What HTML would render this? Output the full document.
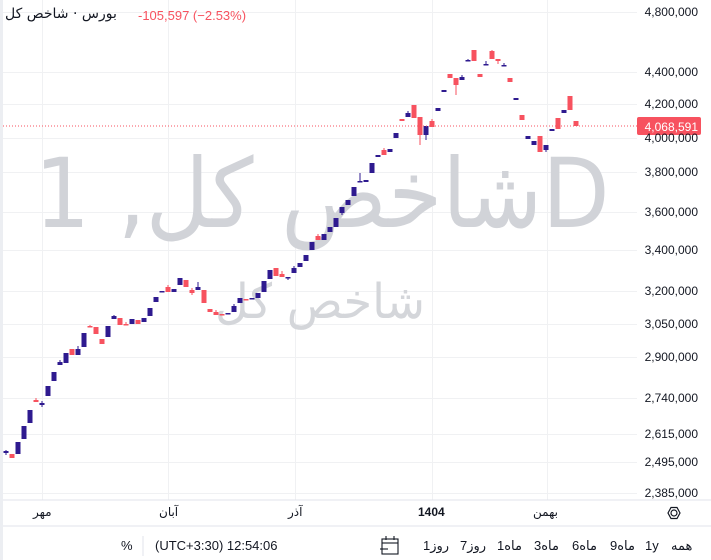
<!DOCTYPE html>
<html><head><meta charset="utf-8">
<style>
body{margin:0;width:711px;height:560px;overflow:hidden;background:#fff;font-family:"Liberation Sans","DejaVu Sans",sans-serif;}
.t{position:absolute;white-space:nowrap;}
.b{position:absolute;top:538px;font-size:13px;color:#131722;font-family:"Liberation Sans","DejaVu Sans",sans-serif;white-space:nowrap;direction:ltr;unicode-bidi:isolate;}
</style></head>
<body>
<div style="position:absolute;left:0;top:0;width:3px;height:560px;background:#eceef2"></div>
<svg id="s" width="711" height="560" style="position:absolute;left:0;top:0">
<g stroke="#f0f1f3" stroke-width="1" id="grid"></g>
<text x="322" y="227" font-family="DejaVu Sans,sans-serif" font-size="96" fill="#d1d3d8" text-anchor="middle" direction="ltr" textLength="575" lengthAdjust="spacingAndGlyphs">1 ,شاخص کلD</text>
<text x="320" y="318" font-family="DejaVu Sans,sans-serif" font-size="48" fill="#d4d6da" text-anchor="middle" textLength="210" lengthAdjust="spacingAndGlyphs">شاخص کل</text>
<g id="c"></g>
<line x1="3" y1="126" x2="637" y2="126" stroke="#f7525f" stroke-width="1" stroke-dasharray="1,2"/>
<rect x="637" y="117" width="64" height="18" rx="2" fill="#f7525f"/>
<text x="698" y="131" font-size="12" fill="#fff" text-anchor="end" font-family="Liberation Sans">4,068,591</text>
<g id="ax" font-size="12" fill="#131722" font-family="Liberation Sans" text-anchor="end"></g>
<line x1="3" y1="500" x2="711" y2="500" stroke="#e0e3eb"/>
<line x1="3" y1="526" x2="711" y2="526" stroke="#e0e3eb"/>
<line x1="143" y1="536" x2="143" y2="556" stroke="#e0e3eb"/>
<circle cx="674" cy="513" r="3" fill="none" stroke="#131722" stroke-width="1.2"/>
<polygon points="668,513 671,507.5 677,507.5 680,513 677,518.5 671,518.5" fill="none" stroke="#131722" stroke-width="1.2"/>
<g fill="none" stroke="#131722" stroke-width="1.1">
<rect x="382" y="539" width="16" height="15"/><line x1="382" y1="543" x2="398" y2="543"/>
<line x1="386" y1="536" x2="386" y2="540"/><line x1="394" y1="536" x2="394" y2="540"/>
<line x1="380" y1="549" x2="388" y2="549"/>
</g>
</svg>
<div class="t" style="left:5px;top:6px;font-size:14px;color:#131722;font-family:'DejaVu Sans',sans-serif" dir="rtl">بورس · شاخص کل</div>
<div class="t" style="left:138px;top:8px;font-size:13px;color:#f7525f">-105,597 (−2.53%)</div>
<div class="t" style="left:33px;top:505px;font-size:12px;color:#131722;font-family:'DejaVu Sans',sans-serif">مهر</div>
<div class="t" style="left:159px;top:505px;font-size:12px;color:#131722;font-family:'DejaVu Sans',sans-serif">آبان</div>
<div class="t" style="left:288px;top:505px;font-size:12px;color:#131722;font-family:'DejaVu Sans',sans-serif">آذر</div>
<div class="t" style="left:418px;top:505px;font-size:12px;color:#131722;font-weight:bold">1404</div>
<div class="t" style="left:533px;top:505px;font-size:12px;color:#131722;font-family:'DejaVu Sans',sans-serif">بهمن</div>
<div class="t" style="left:121px;top:538px;font-size:13px;color:#131722">%</div>
<div class="t" style="left:155px;top:538px;font-size:13px;color:#131722">(UTC+3:30) 12:54:06</div>
<div class="b" style="left:671px">همه</div>
<div class="b" style="left:645px">1y</div>
<div class="b" style="left:610px">9<span>ماه</span></div>
<div class="b" style="left:572px">6<span>ماه</span></div>
<div class="b" style="left:534px">3<span>ماه</span></div>
<div class="b" style="left:497px">1<span>ماه</span></div>
<div class="b" style="left:460px">7<span>روز</span></div>
<div class="b" style="left:423px">1<span>روز</span></div>
<script>
var ns="http://www.w3.org/2000/svg";
function el(n,a,p){var e=document.createElementNS(ns,n);for(var k in a)e.setAttribute(k,a[k]);document.getElementById(p).appendChild(e);return e;}
var ax=[["4,800,000",12],["4,400,000",72],["4,200,000",104],["4,000,000",138],["3,800,000",172],["3,600,000",212],["3,400,000",250],["3,200,000",291],["3,050,000",324],["2,900,000",357],["2,740,000",398],["2,615,000",434],["2,495,000",462],["2,385,000",493]];
ax.forEach(function(a){el("line",{x1:3,x2:637,y1:a[1]+.5,y2:a[1]+.5},"grid");var t=el("text",{x:698,y:a[1]+4},"ax");t.textContent=a[0];});
[42,168,295,432,547].forEach(function(x){el("line",{x1:x+.5,x2:x+.5,y1:0,y2:500},"grid");});
var B="#2e1a8f",R="#f7525f";
var d=[[6,B,451,453,450,455],[12,R,454,458],[18,B,442,454],[24,B,426,439],[30,B,410,423],[36,R,400,402,398,402],[42,B,403,405,401,407],[48,B,386,396],[54,B,372,381],[60,B,362,365,360,365],[66,B,353,363],[72,R,349,355],[78,B,349,355,346,355],[84,B,333,347],[90,R,326,327,325,327],[96,R,327,334],[102,R,339,344],[108,B,326,337],[114,B,316,319,315,319],[120,R,318,325],[126,R,324,325,322,325],[132,B,319,324],[138,R,320,324],[144,B,318,322],[150,B,308,316],[156,B,297,302],[162,B,291,292],[168,R,287,292,285,292],[174,B,289,292],[180,B,278,285],[186,R,280,287],[192,R,290,293,288,295],[198,B,287,290,282,290],[204,R,290,303],[210,R,309,312],[216,R,312,315,310,315],[222,R,314,315],[228,B,313,314],[234,B,306,312,304,312],[240,B,298,303],[246,R,299,300],[252,B,298,299],[258,B,293,298],[264,B,281,292],[270,B,270,279],[276,R,268,276],[282,R,274,277,271,277],[288,B,277,278,277,280],[294,B,268,273,266,273],[300,B,263,267],[306,B,255,261],[312,B,242,250],[318,R,236,240,234,240],[324,B,234,240],[330,B,227,232],[336,B,218,227],[342,B,207,213,207,215],[348,B,200,205],[354,B,187,196],[360,B,181,182,173,182],[366,B,180,182],[372,B,163,173],[378,B,155,157],[384,R,150,155,148,155],[390,B,149,152],[396,B,133,138],[402,R,119,121],[408,B,113,117,111,117],[414,R,105,118],[420,R,117,135,117,145],[426,B,126,135,126,140],[432,R,121,127,119,127],[438,B,108,111],[444,B,90,92],[450,R,74,78],[456,R,78,85,78,95],[462,B,77,80,75,80],[468,B,60,61,59,61],[474,R,50,61],[480,R,74,77],[486,B,64,65,61,65],[492,R,51,59,50,59],[498,R,59,61,59,64],[504,B,65,66,63,66],[510,R,78,82],[516,B,98,100],[522,R,115,120],[528,B,136,139],[534,B,141,145],[540,R,136,152],[546,B,145,150,145,152],[552,B,129,131],[558,R,118,129],[564,B,110,113],[570,R,96,110],[576,R,121,126]];
d.forEach(function(c){var x=c[0]-2.5,h=Math.max(c[3]-c[2],1.5);
if(c.length>4)el("line",{x1:c[0],x2:c[0],y1:c[4],y2:c[5],stroke:c[1],"stroke-width":1},"c");
el("rect",{x:x,y:c[2],width:5,height:h,fill:c[1]},"c");});
</script>
</body></html>
